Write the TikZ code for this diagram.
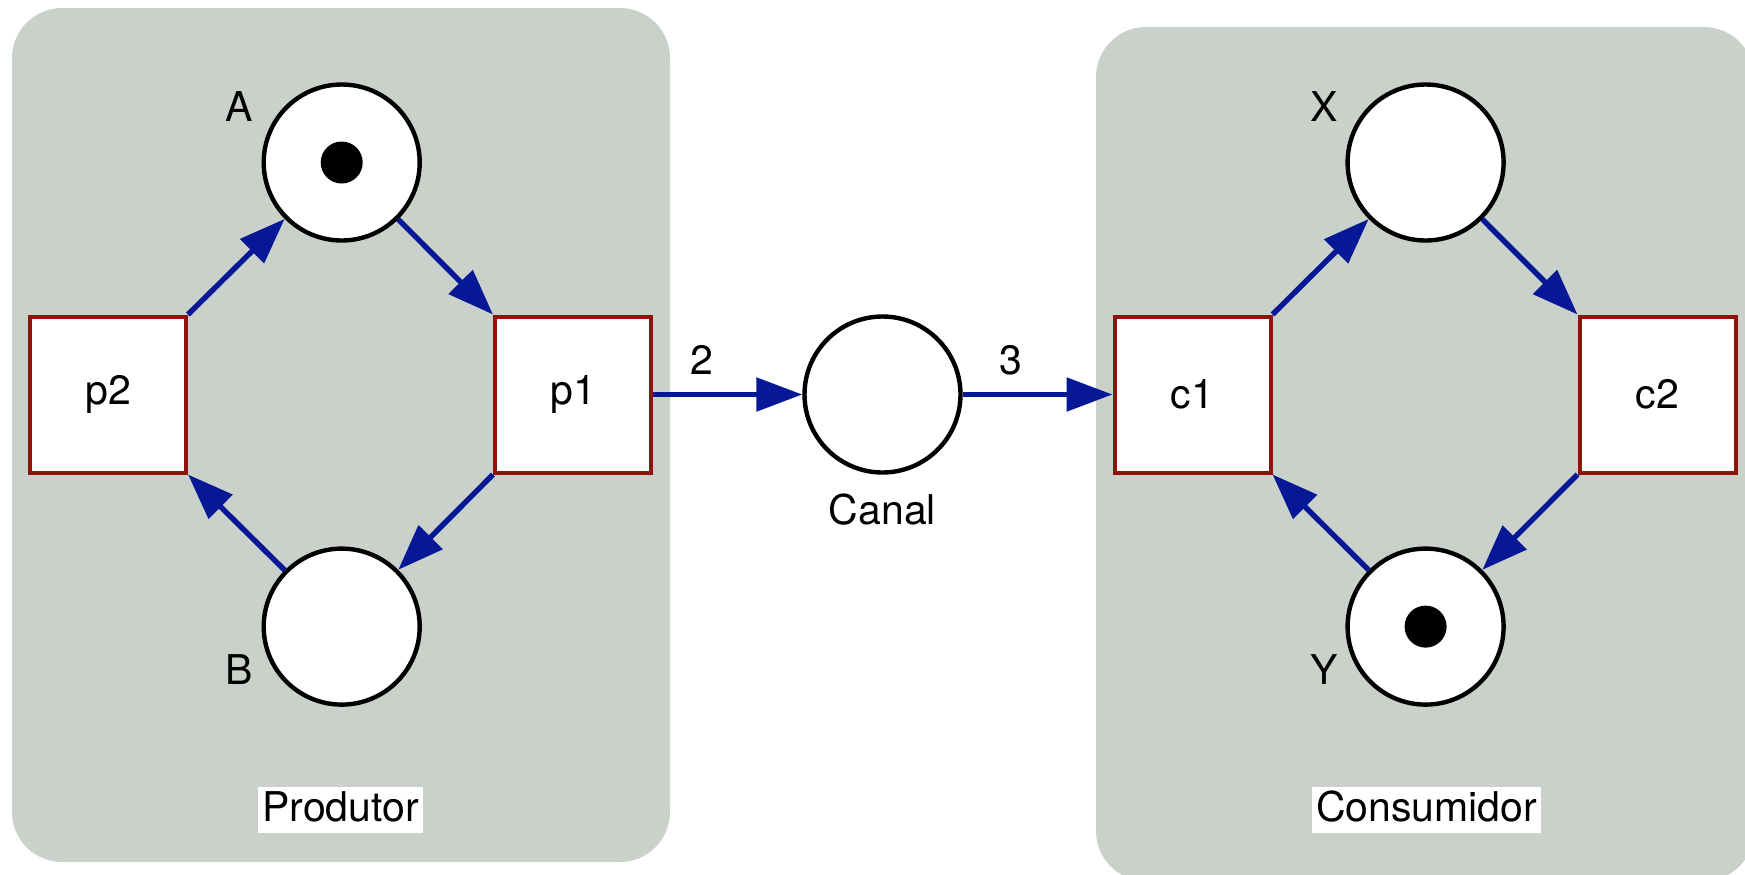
\documentclass[tikz,border=0pt]{standalone}
\usepackage{fontspec}
\setmainfont{TeX Gyre Heros}
\usetikzlibrary{arrows.meta}
\definecolor{panel}{RGB}{202,209,202}
\definecolor{transred}{RGB}{140,20,10}
\definecolor{arcblue}{RGB}{6,24,150}
\begin{document}
\begin{tikzpicture}[x=0.5pt,y=-0.5pt,
  txt/.style={font=\fontsize{20.5}{24}\selectfont},
  place/.style={circle,draw=black,fill=white,line width=2.2pt,minimum size=78pt,inner sep=0pt},
  transition/.style={txt,rectangle,draw=transred,fill=white,line width=2pt,minimum size=78pt,inner sep=0pt},
  token/.style={circle,fill=black,minimum size=21pt,inner sep=0pt},
  arcline/.style={draw=arcblue,line width=2.7pt,-{Triangle[length=23pt,width=16.5pt]}},
  lbl/.style={txt,inner sep=0pt},
  group/.style={fill=panel,rounded corners=25pt},
  grouplabel/.style={txt,fill=white,inner xsep=2pt,inner ysep=2pt,text height=15pt,text depth=4pt}]
  \useasboundingbox (0,0) rectangle (1745,874);
  \clip (0,0) rectangle (1745,874);

  % module backgrounds
  \path[group] (12,8) rectangle (670,862);
  \path[group] (1096,27) rectangle (1754,881);

  % producer
  \node[place] (A) at (341.7,162.5) {};
  \node[token] (tA) at (A) {};
  \node[place] (B) at (341.7,626.6) {};
  \node[transition] (p2) at (108,394.5) {p2};
  \node[transition] (p1) at (573,394.5) {p1};

  % channel
  \node[place] (canal) at (882.5,394.5) {};

  % consumer
  \node[place] (X) at (1425.6,162.5) {};
  \node[place] (Y) at (1425.6,626.6) {};
  \node[token] (tY) at (Y) {};
  \node[transition] (c1) at (1192.5,394.5) {c1};
  \node[transition] (c2) at (1657.5,394.5) {c2};

  % labels
  \node[lbl] (lA) at (239,107) {A};
  \node[lbl] (lB) at (239,670) {B};
  \node[lbl] (lX) at (1324,107) {X};
  \node[lbl] (lY) at (1324,670) {Y};
  \node[lbl] (w2) at (702,360) {2};
  \node[lbl] (w3) at (1010.5,360) {3};
  \node[lbl] (lcanal) at (882.5,510) {Canal};
  \node[grouplabel] (lprod) at (340.5,810) {Produtor};
  \node[grouplabel] (lcons) at (1426.7,810) {Consumidor};

  % arcs
  \draw[arcline] (p2.north east) -- (A);
  \draw[arcline] (A) -- (p1.north west);
  \draw[arcline] (p1.south west) -- (B);
  \draw[arcline] (B) -- (p2.south east);
  \draw[arcline] (p1.east) -- (canal);
  \draw[arcline] (canal) -- (c1.west);
  \draw[arcline] (c1.north east) -- (X);
  \draw[arcline] (X) -- (c2.north west);
  \draw[arcline] (c2.south west) -- (Y);
  \draw[arcline] (Y) -- (c1.south east);
\end{tikzpicture}
\end{document}
